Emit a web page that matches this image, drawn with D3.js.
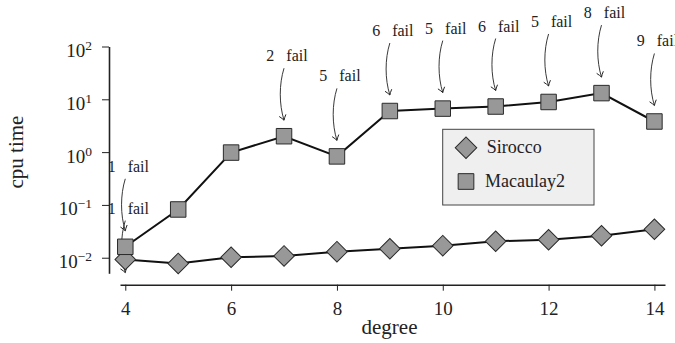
<!DOCTYPE html>
<html>
<head>
<meta charset="utf-8">
<script src="https://cdn.jsdelivr.net/npm/d3@7"></script>
<style>
  body { margin: 0; background: #fff; }
  svg text { font-family: "Liberation Serif", "DejaVu Serif", "Times New Roman", serif; fill: #222; }
</style>
</head>
<body>
<script>
// data
const degrees = [4, 5, 6, 7, 8, 9, 10, 11, 12, 13, 14];
const sirocco = [0.0093, 0.0078, 0.0102, 0.0108, 0.013, 0.0148, 0.0169, 0.0205, 0.0219, 0.0261, 0.0346];
const macaulay2 = [0.0161, 0.082, 0.98, 2.0, 0.83, 6.0, 6.67, 7.3, 8.9, 13.1, 3.8];

// "N fail" pins
const failDegrees = [4, 4, 7, 8, 9, 10, 11, 12, 13, 14];
const failCounts = [1, 1, 2, 5, 6, 5, 6, 5, 8, 9];
const failTargets = [0.0161, 0.0026, 2.0, 0.83, 6.0, 6.67, 7.3, 8.9, 13.1, 3.8];

const xTicks = [4, 6, 8, 10, 12, 14];
const yTicks = [0.01, 0.1, 1, 10, 100];
const yExponents = ["\u22122", "\u22121", "0", "1", "2"];

const seriesNames = ["Sirocco", "Macaulay2"];

const width = 675, height = 343;

const svg = d3.select("body").append("svg")
    .attr("width", width)
    .attr("height", height);

const x = d3.scaleLinear().domain([3.9, 14.2]).range([120, 665]);
const y = d3.scaleLog().domain([Math.pow(10, -2.295), 100]).range([273.3, 46.5]);

const diamond = d3.symbol().type(d3.symbolSquare).size(212);
const square = d3.symbol().type(d3.symbolSquare).size(240);

// x axis
const xAxisG = svg.append("g")
    .attr("transform", "translate(0,284.7)")
    .call(d3.axisBottom(x).tickValues(xTicks).tickSize(6).tickSizeOuter(0).tickPadding(11))
    .attr("font-size", 19)
    .attr("font-family", null)
    .attr("color", "#222");
xAxisG.select(".domain").attr("stroke-width", 1.6);

// y axis
const yAxisG = svg.append("g")
    .attr("transform", "translate(109,0)")
    .call(d3.axisLeft(y).tickValues(yTicks).tickSize(7).tickSizeOuter(0).tickFormat(""))
    .attr("font-family", null)
    .attr("color", "#222");
yAxisG.select(".domain").attr("stroke-width", 1.6);

yAxisG.selectAll(".tick text")
    .attr("x", -17)
    .attr("dy", null)
    .attr("y", 10)
    .attr("font-size", 19)
    .each(function(d, i) {
        const t = d3.select(this);
        t.append("tspan").text("10");
        t.append("tspan").attr("dy", -7).attr("font-size", 13.5).text(yExponents[i]);
    });

svg.append("text")
    .attr("x", 389.5)
    .attr("y", 334)
    .attr("text-anchor", "middle")
    .attr("font-size", 21)
    .text("degree");

svg.append("text")
    .attr("transform", "translate(23,152) rotate(-90)")
    .attr("text-anchor", "middle")
    .attr("font-size", 21)
    .text("cpu time");

// arrow head
svg.append("defs").append("marker")
    .attr("id", "tip")
    .attr("markerUnits", "userSpaceOnUse")
    .attr("viewBox", "-6 -5 8 10")
    .attr("markerWidth", 8)
    .attr("markerHeight", 10)
    .attr("refX", 0)
    .attr("refY", 0)
    .attr("orient", "auto")
    .append("path")
    .attr("d", "M-5,-3.5Q-2,-1 0,0Q-2,1 -5,3.5")
    .attr("fill", "none")
    .attr("stroke", "#222")
    .attr("stroke-width", 0.9);

// fail annotations
failDegrees.forEach((deg, i) => {
    const tx = x(deg), ty = y(failTargets[i]);
    svg.append("path")
        .attr("d", `M${tx},${ty - 68}C${tx - 5},${ty - 52} ${tx - 5},${ty - 32} ${tx},${ty - 16}`)
        .attr("fill", "none")
        .attr("stroke", "#222")
        .attr("stroke-width", 0.9)
        .attr("marker-end", "url(#tip)");
    svg.append("text")
        .attr("x", tx + 3)
        .attr("y", ty - 75)
        .attr("text-anchor", "middle")
        .attr("font-size", 16)
        .text(`${failCounts[i]}\u2002 fail`);
});

// lines
const line = d3.line().x((d, i) => x(degrees[i])).y(d => y(d));

[sirocco, macaulay2].forEach(vals => {
    svg.append("path")
        .datum(vals)
        .attr("d", line)
        .attr("fill", "none")
        .attr("stroke", "#111")
        .attr("stroke-width", 2);
});

// markers
svg.append("g").selectAll("path")
    .data(sirocco)
    .join("path")
    .attr("d", diamond)
    .attr("transform", (d, i) => `translate(${x(degrees[i])},${y(d)}) rotate(45)`)
    .attr("fill", "#989898")
    .attr("stroke", "#2a2a2a")
    .attr("stroke-width", 1);

svg.append("g").selectAll("path")
    .data(macaulay2)
    .join("path")
    .attr("d", square)
    .attr("transform", (d, i) => `translate(${x(degrees[i])},${y(d)})`)
    .attr("fill", "#989898")
    .attr("stroke", "#2a2a2a")
    .attr("stroke-width", 1);

// legend
const legend = svg.append("g").attr("transform", "translate(442.7,129.3)");

legend.append("rect")
    .attr("width", 151.3)
    .attr("height", 75.7)
    .attr("fill", "#efefef")
    .attr("stroke", "#444")
    .attr("stroke-width", 1);

const legendSymbols = [d3.symbol().type(d3.symbolSquare).size(231), d3.symbol().type(d3.symbolSquare).size(246)];

seriesNames.forEach((name, i) => {
    const cy = 18.4 + i * 33.8;
    legend.append("path")
        .attr("d", legendSymbols[i])
        .attr("transform", `translate(23.3,${cy})` + (i === 0 ? " rotate(45)" : ""))
        .attr("fill", "#989898")
        .attr("stroke", "#2a2a2a")
        .attr("stroke-width", 1);
    legend.append("text")
        .attr("x", i === 0 ? 44 : 42.3)
        .attr("y", cy + 5.5)
        .attr("font-size", 18)
        .text(name);
});
</script>
</body>
</html>
